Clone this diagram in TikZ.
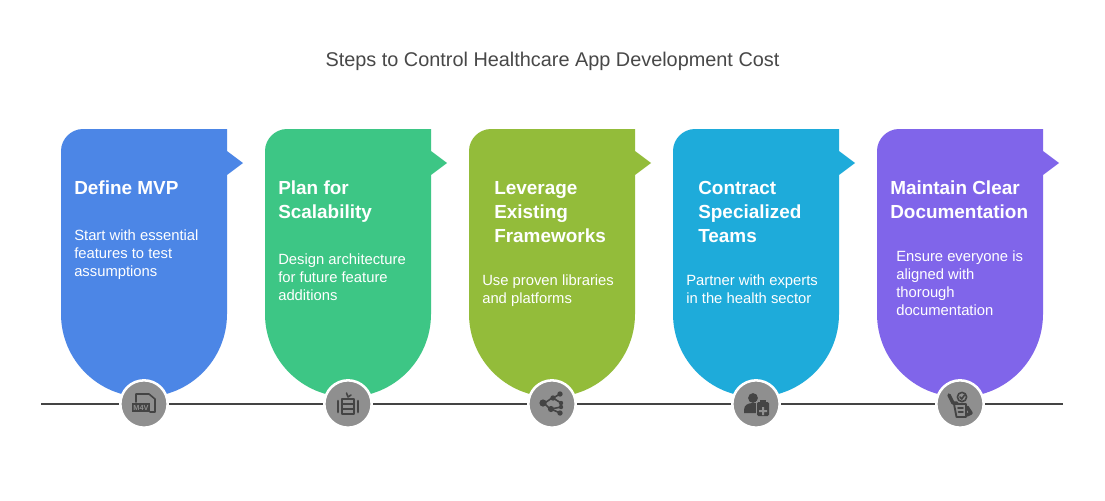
\documentclass[tikz,border=0pt]{standalone}
\usepackage{fontspec}
\setmainfont{Liberation Sans}
\definecolor{cblue}{HTML}{4C86E6}
\definecolor{cgreen}{HTML}{3DC685}
\definecolor{colive}{HTML}{93BC3A}
\definecolor{ccyan}{HTML}{1EABDA}
\definecolor{cviolet}{HTML}{8065EA}
\definecolor{ink}{HTML}{444444}
\definecolor{disc}{HTML}{8F8F8F}
\definecolor{titleink}{HTML}{484848}
\newcommand{\card}[2]{%
  \fill[#2] (#1,151) -- (#1+166,151) -- (#1+166,129) -- (#1+22,129)
    .. controls (#1+10,129) and (#1,139) .. (#1,151) -- (#1,314)
    arc[start angle=180,end angle=0,x radius=83,y radius=83]
    -- (#1+166,175) -- (#1+182,163) -- (#1+166,151) -- cycle;}
\tikzset{
  x=0.75pt,y=-0.75pt,
  head/.style={anchor=north west,inner sep=0pt,align=left,text=white,font=\fontsize{14.2pt}{18pt}\selectfont\bfseries},
  body/.style={anchor=north west,inner sep=0pt,align=left,text=white,font=\fontsize{11.1pt}{13.5pt}\selectfont},
  heading/.style={inner sep=0pt,text=titleink,font=\fontsize{14.9pt}{18pt}\selectfont},
  discnode/.style={circle,minimum size=35.5pt,inner sep=0pt,fill=disc,draw=white,line width=1.9pt},
  timeline/.style={draw=ink,line width=1.5pt},
  iconline/.style={draw=ink,line width=1.2pt,line cap=round,line join=round}
}
\begin{document}
\begin{tikzpicture}
\useasboundingbox (0,0) rectangle (1105,500);
\fill[white] (0,0) rectangle (1105,500);
\node[heading] (title) at (552.5,61) {Steps to Control Healthcare App Development Cost};

\card{61}{cblue}
\card{265}{cgreen}
\card{469}{colive}
\card{673}{ccyan}
\card{877}{cviolet}

\coordinate (lineL) at (41,404);
\coordinate (lineR) at (1063,404);
\draw[timeline] (lineL) -- (lineR);

\node[discnode] (d1) at (144,404) {};
\node[discnode] (d2) at (348,404) {};
\node[discnode] (d3) at (552,404) {};
\node[discnode] (d4) at (756,404) {};
\node[discnode] (d5) at (960,404) {};

\node[head] (h1) at (74,181) {Define MVP};
\node[body] (b1) at (74,230) {Start with essential\\features to test\\assumptions};
\node[head] (h2) at (278,181) {Plan for\\Scalability};
\node[body] (b2) at (278,254) {Design architecture\\for future feature\\additions};
\node[head] (h3) at (494,181) {Leverage\\Existing\\Frameworks};
\node[body] (b3) at (482,275) {Use proven libraries\\and platforms};
\node[head] (h4) at (698,181) {Contract\\Specialized\\Teams};
\node[body] (b4) at (686,275) {Partner with experts\\in the health sector};
\node[head] (h5) at (890,181) {Maintain Clear\\Documentation};
\node[body] (b5) at (896,251) {Ensure everyone is\\aligned with\\thorough\\documentation};

% icon 1
\begin{scope}[shift={(d1.center)}]
\draw[iconline] (-8,-2) -- (-8,-10) -- (5,-10) -- (11,-5) -- (11,8) -- (6,8);
\fill[ink] (-12,-1) rectangle (6,8);
\node[inner sep=0pt,text=disc,font=\fontsize{5.5pt}{6pt}\selectfont\bfseries] (m4v) at (-3,3.7) {M4V};
\end{scope}
% icon 2
\begin{scope}[shift={(d2.center)}]
\draw[iconline] (-6,-5) rectangle (6,10);
\draw[iconline] (-6,0) -- (6,0) (-6,5) -- (6,5);
\draw[ink,line width=2pt,line cap=round] (-10,-3) -- (-10,8) (10,-3) -- (10,8);
\draw[iconline] (0,-7) -- (-1.5,-11) (0,-7) -- (3,-9);
\end{scope}
% icon 3
\begin{scope}[shift={(d3.center)}]
\draw[iconline] (-9,-1) .. controls (-5,-1) and (-2,-6) .. (1,-6) -- (8,-10);
\draw[iconline] (1,-6) -- (9,-1);
\draw[iconline] (-9,-1) .. controls (-6,-1) and (-4,5) .. (-1,5) -- (9,3);
\draw[iconline] (-1,5) -- (8,9);
\fill[ink] (-9,-1) circle (3.6) (-1,5) circle (3.1) (1,-6) circle (2.7) (8,-10) circle (2.7) (9,-1) circle (2.2) (9,3) circle (2.2) (8,9) circle (2.7);
\end{scope}
% icon 4
\begin{scope}[shift={(d4.center)}]
\fill[ink] (-3,-6) circle (4.9);
\fill[ink] (-12,9) -- (-12,6) .. controls (-12,1) and (-8,-1) .. (-3,-1) -- (0,-1) -- (0,9) -- cycle;
\fill[disc] (-0.5,-3.5) rectangle (14.5,13.5);
\fill[ink,rounded corners=1pt] (1,-2) rectangle (13,12);
\fill[ink] (4,-4) rectangle (9.5,-1);
\fill[disc] (6,3) rectangle (8,11) (3,6) rectangle (11,8);
\end{scope}
% icon 5
\begin{scope}[shift={(d5.center)}]
\draw[iconline,line width=1.4pt] (-6,0) -- (-3.5,13) -- (6,13) -- (6,0) -- cycle;
\draw[ink,line width=2.6pt,line cap=round,line join=round] (-11,-9) -- (-7,-1) -- (-3,-1);
\draw[ink,line width=2.6pt,line cap=round,line join=round] (7,3) -- (11,9) -- (7,11);
\draw[iconline] (-2,4) -- (3,4) (-1.5,8) -- (3,8);
\fill[disc] (2,-7) circle (6);
\draw[ink,line width=1.2pt] (2,-7) circle (4.6);
\draw[ink,line width=1.2pt,line cap=round,line join=round] (0,-7) -- (1.7,-5) -- (4.5,-9);
\end{scope}
\end{tikzpicture}
\end{document}
